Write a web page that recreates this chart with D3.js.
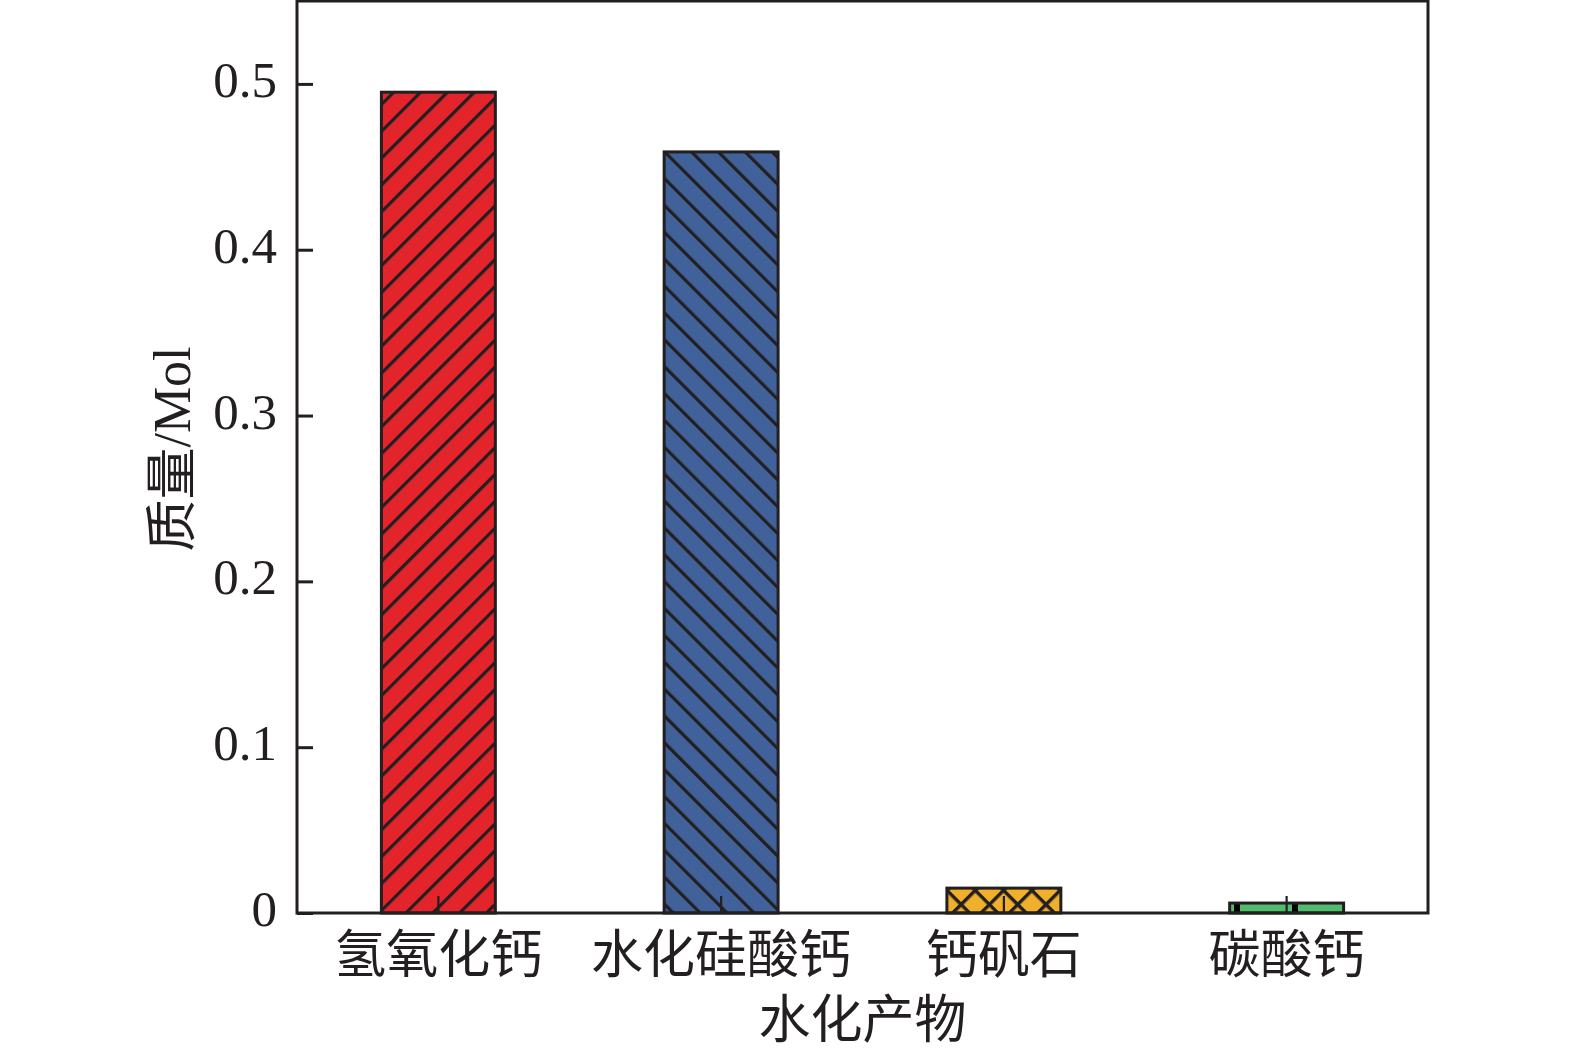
<!DOCTYPE html>
<html>
<head>
<meta charset="utf-8">
<script src="https://cdn.jsdelivr.net/npm/d3@7"></script>
<style>
  html, body { margin: 0; padding: 0; background: #fff; }
  svg { display: block; }
  text { font-family: "Liberation Serif", "Noto Sans CJK SC", serif; fill: #231f20; }
</style>
</head>
<body>
<svg id="chart" width="1575" height="1050"></svg>
<script>
const categories = ["氢氧化钙", "水化硅酸钙", "钙矾石", "碳酸钙"];
const values = [0.495, 0.459, 0.015, 0.006];
const colors = ["#e3242b", "#40619a", "#f0b02c", "#4fbd6c"];
const patterns = ["hatchFwd", "hatchBack", "cross", "dots"];
const yTicks = [0, 0.1, 0.2, 0.3, 0.4, 0.5];
const yTickLabels = ["0", "0.1", "0.2", "0.3", "0.4", "0.5"];
const xTitle = "水化产物";
const yTitle = "质量/Mol";

const ink = "#231f20";
const L = 297, R = 1428, T = 1, B = 913;

const svg = d3.select("#chart");
const x = d3.scaleBand().domain(categories).range([L, R]).paddingInner(0.597).paddingOuter(0.2985);
const y = d3.scaleLinear().domain([0, 0.55]).range([B, T]);

const defs = svg.append("defs");
// forward hatch "/"
let p = defs.append("pattern").attr("id", "hatchFwd").attr("patternUnits", "userSpaceOnUse")
  .attr("width", 19).attr("height", 19).attr("patternTransform", "rotate(45)");
p.append("rect").attr("width", 19).attr("height", 19).attr("fill", colors[0]);
p.append("rect").attr("x", 0).attr("y", 0).attr("width", 3.2).attr("height", 19).attr("fill", ink);
// back hatch "\"
p = defs.append("pattern").attr("id", "hatchBack").attr("patternUnits", "userSpaceOnUse")
  .attr("width", 19).attr("height", 19).attr("patternTransform", "rotate(-45)");
p.append("rect").attr("width", 19).attr("height", 19).attr("fill", colors[1]);
p.append("rect").attr("x", 0).attr("y", 0).attr("width", 3.2).attr("height", 19).attr("fill", ink);
// cross hatch
p = defs.append("pattern").attr("id", "cross").attr("patternUnits", "userSpaceOnUse")
  .attr("width", 20).attr("height", 20).attr("patternTransform", "translate(947,888) rotate(45)");
p.append("rect").attr("width", 20).attr("height", 20).attr("fill", colors[2]);
p.append("rect").attr("x", 0).attr("y", 0).attr("width", 3.4).attr("height", 20).attr("fill", ink);
p.append("rect").attr("x", 0).attr("y", 0).attr("width", 20).attr("height", 3.4).attr("fill", ink);
// small black blocks
p = defs.append("pattern").attr("id", "dots").attr("patternUnits", "userSpaceOnUse")
  .attr("width", 58).attr("height", 20);
p.append("rect").attr("width", 58).attr("height", 20).attr("fill", colors[3]);
p.append("rect").attr("x", 16).attr("width", 6).attr("height", 20).attr("fill", "#000");

// bars
svg.append("g").selectAll("rect").data(categories).join("rect")
  .attr("x", d => x(d))
  .attr("y", (d, i) => y(values[i]))
  .attr("width", x.bandwidth())
  .attr("height", (d, i) => y(0) - y(values[i]))
  .attr("fill", (d, i) => `url(#${patterns[i]})`)
  .attr("stroke", ink).attr("stroke-width", 3);

// frame
svg.append("rect").attr("x", L).attr("y", T).attr("width", R - L).attr("height", B - T)
  .attr("fill", "none").attr("stroke", ink).attr("stroke-width", 3);

// y axis (inward ticks)
const yAxis = d3.axisRight(y).tickValues(yTicks).tickSize(16).tickFormat("");
const gy = svg.append("g").attr("transform", `translate(${L},0)`).call(yAxis);
gy.select(".domain").remove();
gy.selectAll(".tick line").attr("stroke", ink).attr("stroke-width", 3);
svg.append("g").selectAll("text").data(yTicks).join("text")
  .attr("x", 277).attr("y", d => y(d) + 13)
  .attr("text-anchor", "end").attr("font-size", 51)
  .text((d, i) => yTickLabels[i]);

// x axis (inward ticks)
const xAxis = d3.axisTop(x).tickSize(17).tickFormat("");
const gx = svg.append("g").attr("transform", `translate(0,${B})`).call(xAxis);
gx.select(".domain").remove();
gx.selectAll(".tick line").attr("stroke", ink).attr("stroke-width", 2.2);
svg.append("g").selectAll("text").data(categories).join("text")
  .attr("x", d => x(d) + x.bandwidth() / 2).attr("y", 973)
  .attr("text-anchor", "middle").attr("font-size", 52)
  .text(d => d);

// titles
svg.append("text").attr("x", (L + R) / 2).attr("y", 1038)
  .attr("text-anchor", "middle").attr("font-size", 52).text(xTitle);
svg.append("text").attr("transform", "translate(190,449) rotate(-90)")
  .attr("text-anchor", "middle").attr("font-size", 52).text(yTitle);
</script>
</body>
</html>
